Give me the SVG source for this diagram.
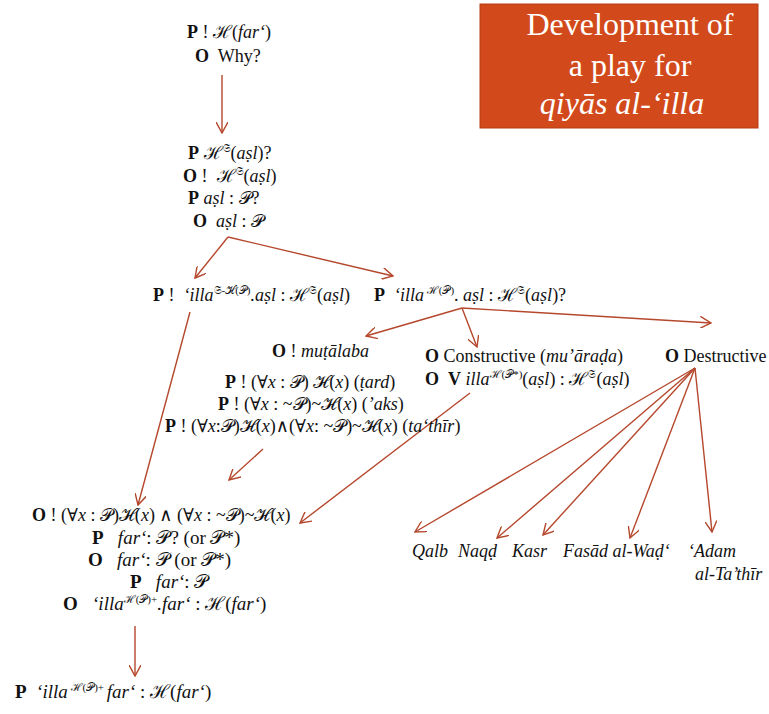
<svg xmlns="http://www.w3.org/2000/svg" width="769" height="714" viewBox="0 0 769 714" xml:space="preserve" font-family="'Liberation Serif', 'Times New Roman', 'DejaVu Serif', serif">
<style>
text{font-family:'Liberation Serif','Times New Roman','DejaVu Serif',serif;font-size:18px;fill:#111;white-space:pre;}
.b{font-weight:bold;}
.i{font-style:italic;}
.sup{font-size:11px;}
.lg{font-size:19px;}
.title{fill:#fff;font-size:32px;text-anchor:middle;}
.c{stroke:#B5472C;stroke-width:1.4;fill:none;marker-end:url(#ah);}
</style>
<defs>
<marker id="ah" viewBox="0 0 12 12" refX="11" refY="6" markerWidth="12" markerHeight="12" markerUnits="userSpaceOnUse" orient="auto">
<path d="M0,0 L11,6 L0,12" fill="none" stroke="#B5472C" stroke-width="1.4"/>
</marker>
</defs>
<rect width="769" height="714" fill="#fff"/>
<g id="title">
<rect x="480" y="4" width="278" height="124" fill="#D24A1B" stroke="#B63C12" stroke-width="1"/>
<text class="title" x="630" y="35">Development of</text>
<text class="title" x="630" y="76">a play for</text>
<text class="title i" x="622" y="114">qiyās al-‘illa</text>
</g>
<g id="connectors">
<path class="c" d="M222,75 L222,133"/>
<path class="c" d="M228,237 L195,278"/>
<path class="c" d="M228,237 L393,276"/>
<path class="c" d="M462,308 L366,336"/>
<path class="c" d="M462,308 L477,347"/>
<path class="c" d="M462,308 L711,323"/>
<path class="c" d="M190,312 L138,505"/>
<path class="c" d="M263,449 L229,480"/>
<path class="c" d="M470,393 L300,523"/>
<path class="c" d="M695,368 L415,532"/>
<path class="c" d="M695,368 L497,538"/>
<path class="c" d="M695,368 L543,535"/>
<path class="c" d="M695,368 L630,538"/>
<path class="c" d="M695,368 L712,532"/>
<path class="c" d="M135,626 L135,676"/>
</g>
<g id="n1">
<text x="187" y="38"><tspan class="b">P</tspan> ! ℋ(<tspan class="i">far‘</tspan>)</text>
<text x="195" y="62"><tspan class="b">O</tspan>  Why?</text>
</g>
<g id="n2">
<text x="188" y="159"><tspan class="b">P</tspan> ℋ<tspan class="sup" dy="-7">𝔖</tspan><tspan dy="7">(</tspan><tspan class="i">aṣl</tspan>)?</text>
<text x="183" y="182"><tspan class="b">O</tspan> !  ℋ<tspan class="sup" dy="-7">𝔖</tspan><tspan dy="7">(</tspan><tspan class="i">aṣl</tspan>)</text>
<text x="188" y="204"><tspan class="b">P</tspan> <tspan class="i">aṣl</tspan> : 𝒫?</text>
<text x="193" y="227"><tspan class="b">O</tspan>  <tspan class="i">aṣl</tspan> : 𝒫</text>
</g>
<g id="n3">
<text x="153" y="301"><tspan class="b">P</tspan> !  <tspan class="i">‘illa</tspan><tspan class="sup" dy="-7">𝔖-ℋ(𝒫)</tspan><tspan class="i" dy="7">.aṣl</tspan> : ℋ<tspan class="sup" dy="-7">𝔖</tspan><tspan dy="7">(</tspan><tspan class="i">aṣl</tspan>)</text>
</g>
<g id="n4">
<text x="374" y="301"><tspan class="b">P</tspan>  <tspan class="i">‘illa</tspan><tspan class="sup" dy="-7"> ℋ(𝒫)</tspan><tspan dy="7">. </tspan><tspan class="i">aṣl</tspan> : ℋ<tspan class="sup" dy="-7">𝔖</tspan><tspan dy="7">(</tspan><tspan class="i">aṣl</tspan>)?</text>
</g>
<g id="n5">
<text x="272" y="357"><tspan class="b">O</tspan> ! <tspan class="i">muṭālaba</tspan></text>
<text x="225" y="388"><tspan class="b">P</tspan> ! (∀<tspan class="i">x</tspan> : 𝒫) ℋ(<tspan class="i">x</tspan>) (<tspan class="i">ṭard</tspan>)</text>
<text x="218" y="410"><tspan class="b">P</tspan> ! (∀<tspan class="i">x</tspan> : ~𝒫)~ℋ(<tspan class="i">x</tspan>) (<tspan class="i">’aks</tspan>)</text>
<text x="165" y="432"><tspan class="b">P</tspan> ! (∀<tspan class="i">x</tspan>:𝒫)ℋ(<tspan class="i">x</tspan>)∧(∀<tspan class="i">x</tspan>: ~𝒫)~ℋ(<tspan class="i">x</tspan>) (<tspan class="i">ta‘thīr</tspan>)</text>
</g>
<g id="n6">
<text x="425" y="362"><tspan class="b">O</tspan> Constructive (<tspan class="i">mu’āraḍa</tspan>)</text>
<text x="425" y="385"><tspan class="b">O</tspan>  <tspan class="b">V</tspan> <tspan class="i">illa</tspan><tspan class="sup" dy="-7">ℋ(𝒫*)</tspan><tspan dy="7">(</tspan><tspan class="i">aṣl</tspan>) : ℋ<tspan class="sup" dy="-7">𝔖</tspan><tspan dy="7">(</tspan><tspan class="i">aṣl</tspan>)</text>
</g>
<g id="n7">
<text x="665" y="362"><tspan class="b">O</tspan> Destructive</text>
</g>
<g id="n8">
<text class="i" x="412" y="557">Qalb</text>
<text class="i" x="458" y="557">Naqḍ</text>
<text class="i" x="512" y="557">Kasr</text>
<text class="i" x="563" y="557">Fasād al-Waḍ‘</text>
<text class="i" x="688" y="557">‘Adam</text>
<text class="i" x="695" y="580">al-Ta’thīr</text>
</g>
<g id="n9">
<text x="32" y="521"><tspan class="b">O</tspan> ! (∀<tspan class="i">x</tspan> : 𝒫)ℋ(<tspan class="i">x</tspan>) ∧ (∀<tspan class="i">x</tspan> : ~𝒫)~ℋ(<tspan class="i">x</tspan>)</text>
<text class="lg" x="92" y="544"><tspan class="b">P</tspan>   <tspan class="i">far‘</tspan>: 𝒫? (or 𝒫*)</text>
<text class="lg" x="88" y="566"><tspan class="b">O</tspan>   <tspan class="i">far‘</tspan>: 𝒫 (or 𝒫*)</text>
<text class="lg" x="130" y="588"><tspan class="b">P</tspan>   <tspan class="i">far‘</tspan>: 𝒫</text>
<text class="lg" x="63" y="610"><tspan class="b">O</tspan>   <tspan class="i">‘illa</tspan><tspan class="sup" dy="-7">ℋ(𝒫)+</tspan><tspan class="i" dy="7">.far‘</tspan> : ℋ(<tspan class="i">far‘</tspan>)</text>
</g>
<g id="n10">
<text class="lg" x="15" y="698"><tspan class="b">P</tspan>  <tspan class="i">‘illa</tspan><tspan class="sup" dy="-7"> ℋ(𝒫)+ </tspan><tspan class="i" dy="7">far‘</tspan> : ℋ(<tspan class="i">far‘</tspan>)</text>
</g>
</svg>
